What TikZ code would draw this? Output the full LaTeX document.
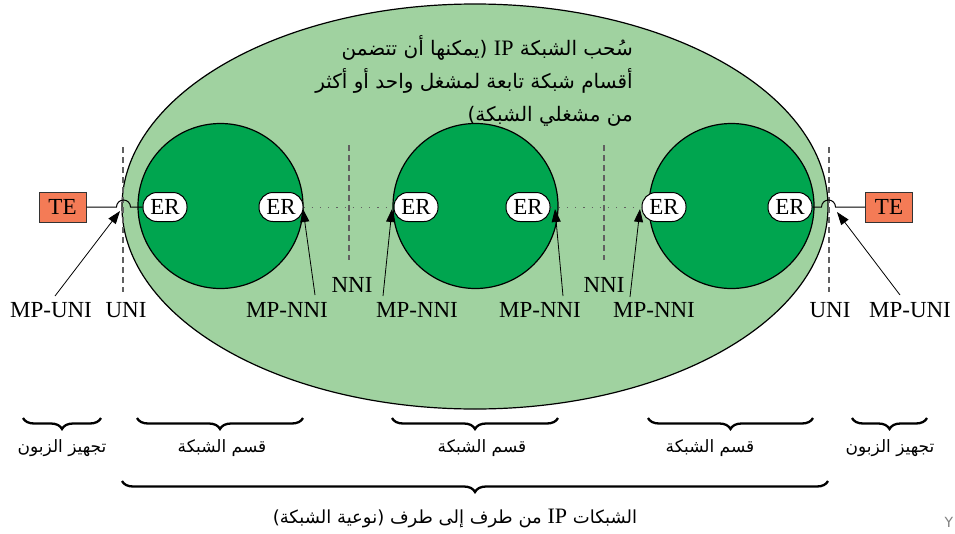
\documentclass[tikz,border=0pt]{standalone}
\usepackage{fontspec}
\setmainfont{Liberation Serif}
\newfontfamily\arabicfont[Script=Arabic]{DejaVu Sans}
\newfontfamily\dvs{DejaVu Sans}
\TeXXeTstate=1
\usetikzlibrary{arrows.meta,decorations.pathreplacing}
\definecolor{lightg}{HTML}{A0D2A0}
\definecolor{darkg}{HTML}{00A54F}
\definecolor{tecol}{HTML}{F47B56}
\definecolor{dashg}{HTML}{606060}
\begin{document}
\begin{tikzpicture}[x=1pt,y=-1pt,
  lat/.style={font=\fontsize{23}{26}\selectfont, inner sep=0pt},
  erbox/.style={draw=black, line width=1pt, fill=white, rounded corners=14pt,
    minimum width=44pt, minimum height=29pt, inner sep=0pt, font=\fontsize{23}{26}\selectfont},
  tebox/.style={draw=black!80, line width=1pt, fill=tecol, minimum width=47pt,
    minimum height=30pt, inner sep=0pt, font=\fontsize{23}{26}\selectfont},
  seg/.style={draw=black, line width=1.2pt, fill=darkg, circle, minimum size=165pt, inner sep=0pt},
  ifline/.style={dashg, dash pattern=on 6pt off 4pt, line width=1.1pt},
  dotl/.style={dashg, dash pattern=on 1.2pt off 7pt, line width=1pt},
  ptr/.style={line width=0.8pt, -{Triangle[length=13pt,width=9pt]}},
  ar/.style={font=\arabicfont\fontsize{17}{20}\selectfont, inner sep=0pt},
  artop/.style={font=\arabicfont\fontsize{20}{24}\selectfont, inner sep=0pt},
  brc/.style={decorate, decoration={brace, mirror, amplitude=11pt}, line width=2.3pt},
  conn/.style={line width=1pt}
]
\useasboundingbox (0,0) rectangle (955,533);

% cloud
\draw[line width=1.2pt, fill=lightg] (475,206.5) ellipse [x radius=353pt, y radius=202.5pt];

% interface dashed lines
\draw[ifline] (123,147) -- (123,292);
\draw[ifline] (829,147) -- (829,292);
\draw[ifline] (349,145) -- (349,260);
\draw[ifline] (604,145) -- (604,260);

% network segments
\node[seg] (c1) at (220.5,206) {};
\node[seg] (c2) at (475.5,206) {};
\node[seg] (c3) at (731.5,206) {};

% edge routers
\node[erbox] (er1) at (165,207) {ER};
\node[erbox] (er2) at (281,207) {ER};
\node[erbox] (er3) at (416,207) {ER};
\node[erbox] (er4) at (528,207) {ER};
\node[erbox] (er5) at (664,207) {ER};
\node[erbox] (er6) at (790,207) {ER};

% terminal equipment
\node[tebox] (te1) at (62.5,207) {TE};
\node[tebox] (te2) at (889,207) {TE};

% connectors
\draw[conn] (te1.east) -- ++(30,0) arc[start angle=180,end angle=0,radius=7pt] -- (er1.west);
\draw[conn] (er6.east) -- ++(9,0) arc[start angle=180,end angle=0,radius=7pt] -- (te2.west);
\draw[dotl] (er2.east) -- (er3.west);
\draw[dotl] (er4.east) -- (er5.west);

% labels
\node[lat, anchor=base] (mpuni1) at (51,317) {MP-UNI};
\node[lat, anchor=base] (uni1) at (126,317) {UNI};
\node[lat, anchor=base] (mpnni1) at (287,317) {MP-NNI};
\node[lat, anchor=base] (nni1) at (352,292) {NNI};
\node[lat, anchor=base] (mpnni2) at (417,317) {MP-NNI};
\node[lat, anchor=base] (mpnni3) at (540,317) {MP-NNI};
\node[lat, anchor=base] (nni2) at (604,292) {NNI};
\node[lat, anchor=base] (mpnni4) at (654,317) {MP-NNI};
\node[lat, anchor=base] (uni2) at (830,317) {UNI};
\node[lat, anchor=base] (mpuni2) at (910,317) {MP-UNI};

% pointer arrows
\coordinate (s1) at (55,296);   \coordinate (p1) at (120,211);
\coordinate (s2) at (315,295);  \coordinate (p2) at (303,209);
\coordinate (s3) at (383,296);  \coordinate (p3) at (392,209);
\coordinate (s4) at (563,296);  \coordinate (p4) at (555,209);
\coordinate (s5) at (630,297);  \coordinate (p5) at (640,209);
\coordinate (s6) at (900,295);  \coordinate (p6) at (837,212);
\draw[ptr] (s1) -- (p1);
\draw[ptr] (s2) -- (p2);
\draw[ptr] (s3) -- (p3);
\draw[ptr] (s4) -- (p4);
\draw[ptr] (s5) -- (p5);
\draw[ptr] (s6) -- (p6);

% cloud description
\node[artop, anchor=base east] (d1) at (633,55) {\beginR سُحب الشبكة {\rmfamily\fontsize{22}{24}\selectfont IP} (يمكنها أن تتضمن\endR};
\node[artop, anchor=base east] (d2) at (633,88) {\beginR أقسام شبكة تابعة لمشغل واحد أو أكثر\endR};
\node[artop, anchor=base east] (d3) at (633,121) {\beginR من مشغلي الشبكة)\endR};

% braces
\draw[brc] (23,418) -- (101,418);
\draw[brc] (137,418) -- (303,418);
\draw[brc] (392,418) -- (558,418);
\draw[brc] (648,418) -- (813,418);
\draw[brc] (852,418) -- (927,418);
\draw[brc] (122,481) -- (828,481);

\node[ar, anchor=base] (l1) at (62,452) {\beginR تجهيز الزبون\endR};
\node[ar, anchor=base] (l2) at (222,452) {\beginR قسم الشبكة\endR};
\node[ar, anchor=base] (l3) at (482,452) {\beginR قسم الشبكة\endR};
\node[ar, anchor=base] (l4) at (710,452) {\beginR قسم الشبكة\endR};
\node[ar, anchor=base] (l5) at (890,452) {\beginR تجهيز الزبون\endR};
\node[ar, font=\arabicfont\fontsize{18}{22}\selectfont, anchor=base] (l6) at (455,523) {\beginR الشبكات {\rmfamily\fontsize{22}{24}\selectfont IP} من طرف إلى طرف (نوعية الشبكة)\endR};

\node[font=\dvs\fontsize{14}{16}\selectfont, text=gray, anchor=base, inner sep=0pt] (pg) at (949,527) {Y};
\end{tikzpicture}
\end{document}
